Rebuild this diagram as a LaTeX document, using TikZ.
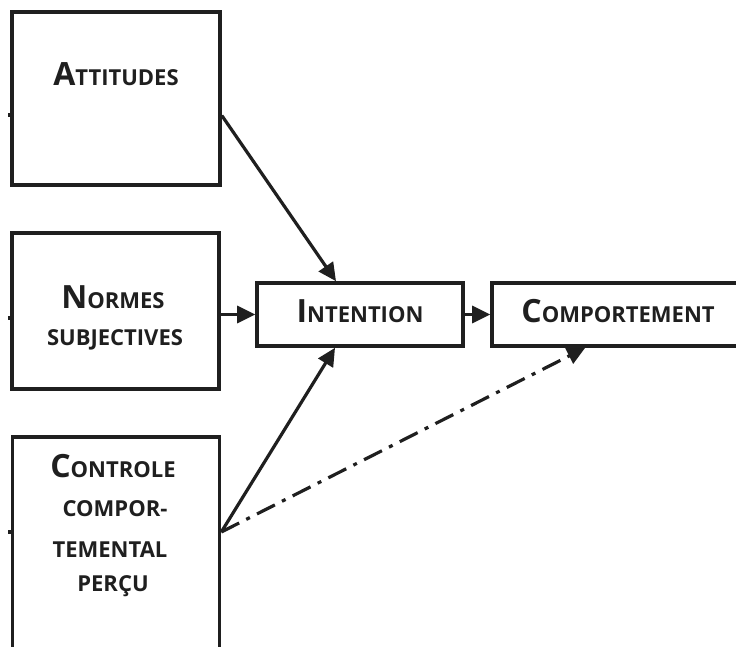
\documentclass[tikz,border=0pt]{standalone}
\usepackage{fontspec}
\setmainfont{Open Sans}
\usetikzlibrary{arrows.meta,calc}
\newcommand\SCx[2]{{\fontsize{32}{32}\selectfont #1}{\fontsize{22}{22}\selectfont #2}}
\tikzset{
  box/.style={draw=black!88, line width=3.6pt, inner sep=0pt},
  lbl/.style={anchor=base, inner sep=0pt, font=\bfseries\fontsize{22}{22}\selectfont, text=black!88},
  arr/.style={draw=black!88, line width=3.2pt, -{Triangle[length=18pt,width=17pt]}},
  stub/.style={draw=black!88, line width=3.6pt},
}
\begin{document}
\begin{tikzpicture}[x=1pt,y=-1pt]
\path[use as bounding box, clip] (0,0) rectangle (736,646);
\fill[white] (0,0) rectangle (736,646);
% boxes
\node[box, minimum width=208pt, minimum height=173pt] (att) at (116,98.5) {};
\node[box, minimum width=207pt, minimum height=156pt] (norm) at (115.5,311) {};
\node[box, minimum width=207pt, minimum height=240pt] (ctl) at (116,557) {};
\node[box, minimum width=206pt, minimum height=63pt] (int) at (360,314.5) {};
\node[box, minimum width=252pt, minimum height=63pt] (comp) at (618,314.5) {};
% labels
\node[lbl] (tatt) at (116,85) {\SCx{A}{TTITUDES}};
\node[lbl] (tnorm1) at (113,308) {\SCx{N}{ORMES}};
\node[lbl] (tnorm2) at (115,345) {SUBJECTIVES};
\node[lbl] (tctl1) at (113,477) {\SCx{C}{ONTROLE}};
\node[lbl] (tctl2) at (115,516) {COMPOR-};
\node[lbl] (tctl3) at (110,557) {TEMENTAL};
\node[lbl] (tctl4) at (113,591) {PERÇU};
\node[lbl] (tint) at (360,322) {\SCx{I}{NTENTION}};
\node[lbl] (tcomp) at (618,322) {\SCx{C}{OMPORTEMENT}};
% connectors
\draw[arr] ([yshift=-17pt]att.east) -- ([xshift=-24pt]int.north);
\draw[arr] (norm.east |- int.west) -- (int.west);
\draw[arr] ([yshift=25pt]ctl.east) -- ([xshift=-25pt]int.south);
\draw[arr] (int.east) -- (comp.west);
\draw[arr, dash pattern=on 20pt off 8pt on 4pt off 8pt] ([yshift=25pt]ctl.east) -- ([xshift=95pt]comp.south west);
% stubs on left edges
\coordinate (s1) at (8,115);
\coordinate (s2) at (8,318);
\coordinate (s3) at (8,532);
\draw[stub] (s1) -- (s1 -| att.west);
\draw[stub] (s2) -- (s2 -| norm.west);
\draw[stub] (s3) -- (s3 -| ctl.west);
\end{tikzpicture}
\end{document}
